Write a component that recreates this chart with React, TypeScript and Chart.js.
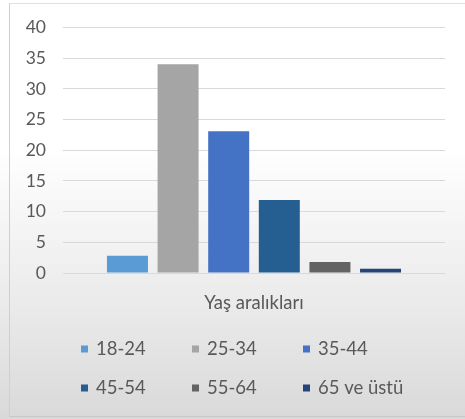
import React, { useEffect, useRef } from "react";
import { Chart, registerables } from "chart.js";

Chart.register(...registerables);

const categories = ["Yaş aralıkları"];
const seriesNames = ["18-24", "25-34", "35-44", "45-54", "55-64", "65 ve üstü"];
const seriesValues = [2.8, 34, 23.1, 11.9, 1.8, 0.7];
const seriesColors = ["#5B9BD5", "#A5A5A5", "#4472C4", "#255E91", "#636363", "#264478"];
const yTicks = [0, 5, 10, 15, 20, 25, 30, 35, 40];

const FONT = "Lato, 'Open Sans', sans-serif";
const TEXT = "#595959";

const gridLegend = {
  id: "gridLegend",
  afterDraw(chart: any) {
    const ctx = chart.ctx;
    ctx.save();
    ctx.font = `18.5px ${FONT}`;
    ctx.textBaseline = "middle";
    ctx.textAlign = "left";
    chart.data.datasets.forEach((ds: any, i: number) => {
      const col = i % 3;
      const row = Math.floor(i / 3);
      const x = 81 + col * 111;
      const y = 349 + row * 39;
      ctx.fillStyle = ds.backgroundColor;
      ctx.fillRect(x, y - 3.5, 7, 7);
      ctx.fillStyle = TEXT;
      ctx.fillText(ds.label, x + 15, y);
    });
    ctx.restore();
  },
};

export default function App() {
  const ref = useRef<HTMLCanvasElement>(null);
  useEffect(() => {
    if (!ref.current) return;
    const chart = new Chart(ref.current, {
      type: "bar",
      data: {
        labels: categories,
        datasets: seriesNames.map((name, i) => ({
          label: name,
          data: [seriesValues[i]],
          backgroundColor: seriesColors[i],
          categoryPercentage: 0.795,
          barPercentage: 0.81,
        })),
      },
      options: {
        animation: false,
        responsive: false,
        layout: { padding: { left: 0, right: 20, top: 27, bottom: 0 } },
        plugins: { legend: { display: false }, tooltip: { enabled: false } },
        scales: {
          x: {
            grid: { display: false },
            border: { display: false },
            ticks: { color: TEXT, font: { family: FONT, size: 18.5 }, padding: 11 },
            afterFit: (s: any) => { s.height = 146; },
          },
          y: {
            min: 0,
            max: 40,
            afterBuildTicks: (s: any) => { s.ticks = yTicks.map((v) => ({ value: v })); },
            grid: { color: "#d9d9d9", drawTicks: false },
            border: { display: false },
            ticks: { color: TEXT, font: { family: FONT, size: 17.5 }, padding: 17 },
            afterFit: (s: any) => { s.width = 63; },
          },
        },
      },
      plugins: [gridLegend],
    });
    return () => chart.destroy();
  }, []);
  return (
    <div style={{ position: "fixed", left: 0, top: 0, width: 465, height: 419, background: "linear-gradient(to bottom, #ffffff 0%, #ffffff 35%, #e9e9e9 75%, #d9d9d9 100%)" }}>
      <div style={{ position: "absolute", left: 9, top: 3, width: 460, height: 412, borderLeft: "1px solid #cfcfcf", borderTop: "1px solid #e0e0e0", borderBottom: "1px solid #c8c8c8" }} />
      <canvas ref={ref} width={465} height={419} style={{ position: "absolute", left: 0, top: 0 }} />
    </div>
  );
}
